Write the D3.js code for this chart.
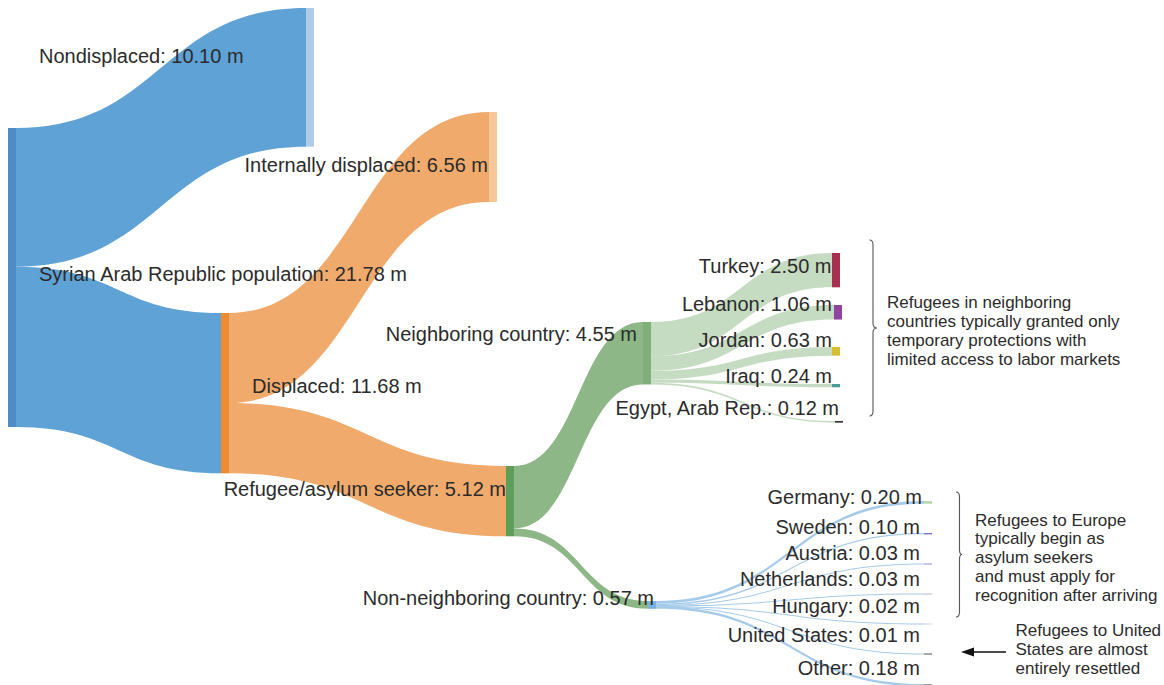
<!DOCTYPE html>
<html>
<head>
<meta charset="utf-8">
<script src="https://cdn.jsdelivr.net/npm/d3@7"></script>
<style>
  html, body { margin: 0; padding: 0; background: #fff; }
  svg { display: block; }
  text { font-family: "Liberation Sans", Arial, sans-serif; fill: #2b2b2b; }
</style>
</head>
<body>
<svg id="chart" width="1164" height="685"></svg>
<script>
// ---------------- DATA ----------------
const nodeNames = [
  "Syrian Arab Republic population", "Nondisplaced", "Displaced",
  "Internally displaced", "Refugee/asylum seeker",
  "Neighboring country", "Non-neighboring country",
  "Turkey", "Lebanon", "Jordan", "Iraq", "Egypt, Arab Rep.",
  "Germany", "Sweden", "Austria", "Netherlands", "Hungary", "United States", "Other"
];
const nodeValues = [21.78, 10.10, 11.68, 6.56, 5.12, 4.55, 0.57,
  2.50, 1.06, 0.63, 0.24, 0.12,
  0.20, 0.10, 0.03, 0.03, 0.02, 0.01, 0.18];
const linkSources = [0, 0, 2, 2, 4, 4, 5, 5, 5, 5, 5, 6, 6, 6, 6, 6, 6, 6];
const linkTargets = [1, 2, 3, 4, 5, 6, 7, 8, 9, 10, 11, 12, 13, 14, 15, 16, 17, 18];
const linkValues  = [10.10, 11.68, 6.56, 5.12, 4.55, 0.57, 2.50, 1.06, 0.63, 0.24, 0.12,
  0.20, 0.10, 0.03, 0.03, 0.02, 0.01, 0.18];

const noteNeighbor = ["Refugees in neighboring", "countries typically granted only",
  "temporary protections with", "limited access to labor markets"];
const noteEurope = ["Refugees to Europe", "typically begin as", "asylum seekers",
  "and must apply for", "recognition after arriving"];
const noteUS = ["Refugees to United", "States are almost", "entirely resettled"];

// ---------------- LAYOUT (positions / styles) ----------------
const nodeX = [8, 306, 221, 489, 506, 643, 648, 832, 834, 832, 832, 835, 924, 924, 924, 924, 924, 924, 924];
const nodeTop = [128, 8, 313, 112, 466, 322, 601, 253, 305, 347, 384, 421, 501, 533, 563.5, 593.5, 623.5, 653.5, 684];
const nodeW = 8;
const nodeColors = ["#4f8bc5", "#aecbea", "#ee8a30", "#f6c797", "#5f9d5b", "#7fb07a", "#7cb0e2",
  "#a82f4e", "#8e44a0", "#d7bd30", "#4c9c9c", "#333333",
  "#b7dca9", "#7a6fc0", "#9a90cf", "#b8b0de", "#d9d4ee", "#555555", "#9a9a9a"];
const linkColorBySource = {0: "#5fa2d6", 2: "#f0aa6c", 4: "#8db787", 5: "#c6dcc2", 6: "#a6cbea"};
const labelPos = [
  [39, 280.7, "start"], [39, 62.7, "start"], [252, 392.7, "start"],
  [488, 171.7, "end"], [506, 496, "end"], [637, 341, "end"], [654, 605, "end"],
  [831.5, 273.3, "end"], [832, 311, "end"], [832, 346.7, "end"], [832, 383.3, "end"], [839, 415, "end"],
  [922, 504, "end"], [920, 534, "end"], [920, 560, "end"], [920, 586, "end"], [920, 612.7, "end"],
  [920, 642.3, "end"], [920, 675, "end"]
];

// ---------------- DRAW ----------------
const svg = d3.select("#chart");
const hScale = d3.scaleLinear().domain([0, 21.78]).range([0, 299]);
const fmt = d3.format(".2f");

const nodes = nodeNames.map((name, i) => ({
  name, value: nodeValues[i], x0: nodeX[i], x1: nodeX[i] + nodeW,
  y0: nodeTop[i], h: Math.max(1, hScale(nodeValues[i])), outOff: 0, inOff: 0
}));

const links = linkValues.map((v, i) => {
  const s = nodes[linkSources[i]], t = nodes[linkTargets[i]];
  const w = hScale(v);
  const l = { source: linkSources[i], w: Math.max(1, w),
    sx: s.x1, sy: s.y0 + s.outOff, tx: t.x0, ty: t.y0 + t.inOff };
  s.outOff += w; t.inOff += w;
  return l;
});

function band(l) {
  const xm = (l.sx + l.tx) / 2;
  const p = d3.path();
  p.moveTo(l.sx, l.sy);
  p.bezierCurveTo(xm, l.sy, xm, l.ty, l.tx, l.ty);
  p.lineTo(l.tx, l.ty + l.w);
  p.bezierCurveTo(xm, l.ty + l.w, xm, l.sy + l.w, l.sx, l.sy + l.w);
  p.closePath();
  return p.toString();
}

svg.append("g").selectAll("path").data(links).join("path")
  .attr("d", band)
  .attr("fill", d => linkColorBySource[d.source]);

svg.append("g").selectAll("rect").data(nodes).join("rect")
  .attr("x", d => d.x0).attr("y", d => d.y0)
  .attr("width", nodeW).attr("height", d => d.h)
  .attr("fill", (d, i) => nodeColors[i]);

svg.append("g").selectAll("text").data(nodes).join("text")
  .attr("x", (d, i) => labelPos[i][0])
  .attr("y", (d, i) => labelPos[i][1])
  .attr("text-anchor", (d, i) => labelPos[i][2])
  .attr("font-size", 20)
  .text(d => `${d.name}: ${fmt(d.value)} m`);

// annotations
function note(lines, x, y, dy) {
  svg.append("text").attr("font-size", 17)
    .selectAll("tspan").data(lines).join("tspan")
    .attr("x", x).attr("y", (d, i) => y + i * dy).text(d => d);
}
note(noteNeighbor, 887, 307.8, 19.1);
note(noteEurope, 975, 525.7, 18.75);
note(noteUS, 1015.5, 636.2, 19);

function brace(x, y0, y1, tipX) {
  const ym = (y0 + y1) / 2, xl = x + 3.5, r = 5;
  return `M${x},${y0} Q${xl},${y0} ${xl},${y0 + r} L${xl},${ym - r} Q${xl},${ym} ${tipX},${ym}` +
         ` Q${xl},${ym} ${xl},${ym + r} L${xl},${y1 - r} Q${xl},${y1} ${x},${y1}`;
}
svg.append("path").attr("d", brace(869.5, 240, 416, 877))
  .attr("fill", "none").attr("stroke", "#555").attr("stroke-width", 1.1);
svg.append("path").attr("d", brace(956, 492, 617, 962))
  .attr("fill", "none").attr("stroke", "#555").attr("stroke-width", 1.1);

// arrow
svg.append("line").attr("x1", 1006).attr("x2", 970).attr("y1", 652).attr("y2", 652)
  .attr("stroke", "#111").attr("stroke-width", 1.6);
svg.append("path").attr("d", "M961,652 L974,647.5 L974,656.5 Z").attr("fill", "#111");
</script>
</body>
</html>
